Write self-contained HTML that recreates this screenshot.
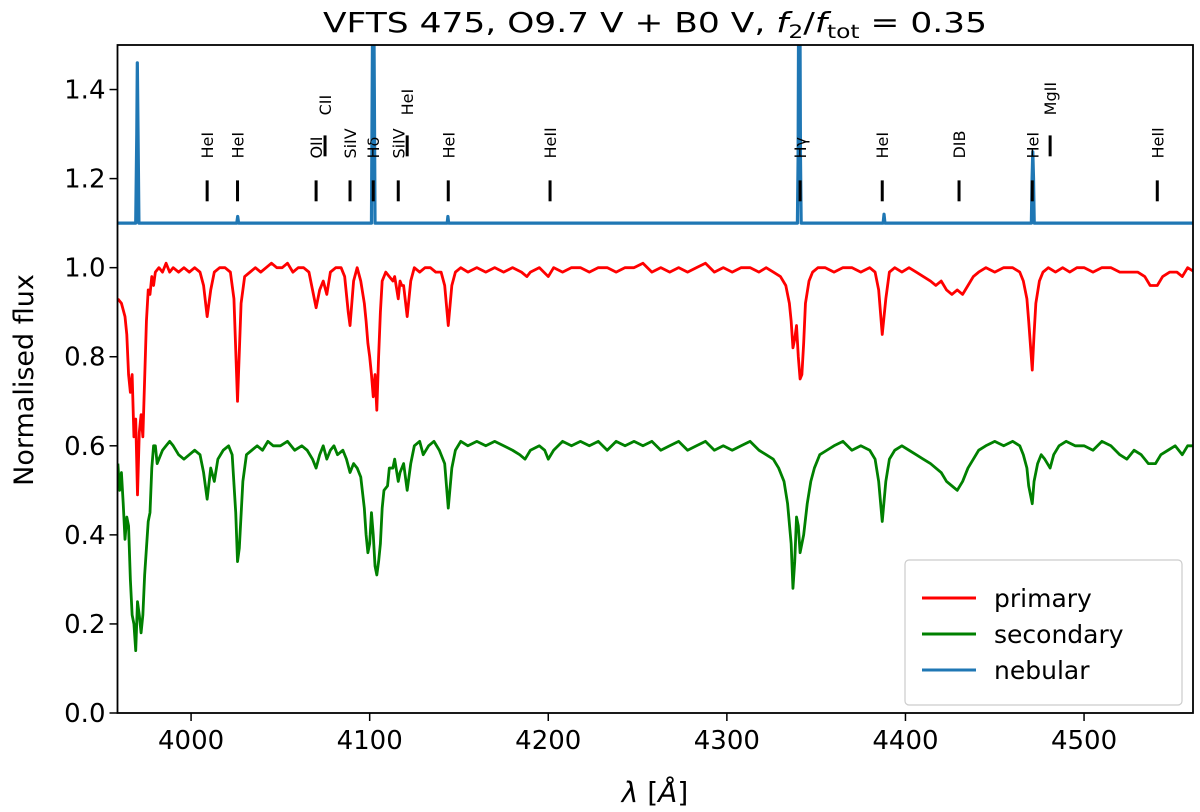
<!DOCTYPE html>
<html><head><meta charset="utf-8"><style>
html,body{margin:0;padding:0;background:#fff}
svg{display:block;font-family:"DejaVu Sans","Liberation Sans",sans-serif}
</style></head><body>
<svg id="chart" width="1200" height="812" viewBox="0 0 1200 812" xmlns="http://www.w3.org/2000/svg">
<text x="655" y="32" font-size="28" text-anchor="middle" textLength="664" lengthAdjust="spacingAndGlyphs">VFTS 475, O9.7 V + B0 V, <tspan font-style="italic">f</tspan><tspan font-size="19" dy="6">2</tspan><tspan dy="-6">/</tspan><tspan font-style="italic">f</tspan><tspan font-size="19" dy="6">tot</tspan><tspan dy="-6"> = 0.35</tspan></text>
<g id="plot"></g>
<text transform="translate(33,380) rotate(-90)" font-size="27" text-anchor="middle">Normalised flux</text>
<text x="655" y="802" font-size="28" text-anchor="middle"><tspan font-style="italic">λ</tspan> [<tspan font-style="italic">Å</tspan>]</text>
</svg>
<script>
const xTicks=[4000,4100,4200,4300,4400,4500];
const yTicks=[0.0,0.2,0.4,0.6,0.8,1.0,1.2,1.4];
const primWl=[3959,3961,3963,3964,3965,3966,3967,3968,3969,3970,3971,3972,3973,3974,3975,3976,3977,3978,3979,3980,3982,3984,3986,3988,3990,3993,3996,3999,4002,4005,4007,4009,4011,4013,4016,4019,4022,4024,4026,4028,4030,4033,4036,4039,4042,4045,4048,4051,4054,4057,4060,4063,4066,4068,4070,4072,4074,4076,4078,4081,4084,4086,4088,4089,4091,4093,4095,4097,4098,4099,4100,4101,4102,4103,4104,4105,4106,4107,4109,4111,4113,4114,4116,4117,4118,4119,4121,4123,4125,4128,4131,4134,4137,4140,4142,4144,4146,4148,4151,4155,4160,4165,4170,4175,4180,4185,4188,4190,4195,4200,4203,4208,4213,4218,4223,4228,4233,4238,4243,4248,4253,4258,4263,4268,4273,4278,4283,4288,4293,4298,4303,4308,4313,4318,4322,4326,4330,4333,4335,4336,4337,4338,4339,4340,4341,4342,4343,4344,4346,4348,4351,4355,4360,4365,4370,4375,4380,4383,4385,4387,4389,4391,4394,4398,4402,4406,4410,4414,4417,4420,4423,4426,4429,4432,4435,4438,4441,4445,4450,4455,4460,4464,4466,4468,4469,4471,4472,4473,4475,4477,4480,4484,4488,4492,4496,4500,4505,4510,4515,4520,4525,4530,4534,4537,4541,4544,4548,4552,4555,4558,4562];
const primFlux=[0.93,0.92,0.89,0.85,0.76,0.72,0.76,0.62,0.66,0.49,0.63,0.67,0.62,0.75,0.88,0.95,0.94,0.98,0.96,0.99,1.00,0.99,1.01,0.99,1.00,0.99,1.00,0.99,1.00,0.99,0.96,0.89,0.95,0.99,1.00,1.00,0.99,0.93,0.70,0.92,0.98,0.99,1.00,0.99,1.00,1.01,1.00,1.00,1.01,0.99,1.00,1.00,0.99,0.95,0.91,0.95,0.97,0.94,0.99,1.00,1.00,0.98,0.90,0.87,0.97,1.00,0.97,0.92,0.88,0.83,0.80,0.76,0.71,0.76,0.68,0.80,0.90,0.97,0.99,0.98,0.97,0.98,0.93,0.97,0.96,0.96,0.89,0.97,1.00,0.99,1.00,1.00,0.99,0.99,0.96,0.87,0.96,0.99,1.00,0.99,1.00,0.99,1.00,0.99,1.00,0.99,0.98,0.99,1.00,0.98,1.00,0.99,1.00,1.00,0.99,1.00,1.00,0.99,1.00,1.00,1.01,0.99,1.00,0.99,1.00,0.99,1.00,1.01,0.99,1.00,0.99,1.00,1.00,0.99,1.00,0.99,0.98,0.96,0.92,0.88,0.82,0.84,0.87,0.80,0.75,0.76,0.83,0.92,0.97,0.99,1.00,1.00,0.99,1.00,1.00,0.99,1.00,0.99,0.95,0.85,0.93,0.99,1.00,0.99,1.00,0.99,0.98,0.97,0.96,0.97,0.95,0.94,0.95,0.94,0.96,0.98,0.99,1.00,0.99,1.00,1.00,0.99,0.97,0.93,0.88,0.77,0.85,0.92,0.97,0.99,1.00,0.99,1.00,0.99,1.00,1.00,0.99,1.00,1.00,0.99,0.99,0.99,0.98,0.96,0.96,0.98,0.99,0.99,0.98,1.00,0.99];
const secWl=[3959,3960,3961,3962,3963,3964,3965,3966,3967,3968,3969,3970,3971,3972,3973,3974,3975,3976,3977,3978,3979,3980,3981,3982,3984,3986,3988,3990,3993,3996,3999,4002,4005,4007,4009,4011,4013,4015,4018,4021,4023,4025,4026,4027,4029,4031,4034,4037,4040,4043,4046,4050,4054,4058,4062,4065,4068,4070,4072,4074,4076,4078,4080,4082,4085,4087,4089,4091,4093,4095,4097,4098,4099,4100,4101,4102,4103,4104,4105,4106,4107,4108,4110,4111,4113,4114,4116,4117,4119,4121,4123,4125,4128,4130,4133,4136,4139,4142,4144,4146,4148,4151,4155,4160,4165,4170,4175,4180,4184,4187,4190,4195,4198,4200,4203,4208,4213,4218,4223,4228,4233,4238,4243,4248,4253,4258,4263,4268,4273,4278,4283,4288,4293,4298,4303,4308,4313,4318,4322,4326,4329,4332,4334,4336,4337,4338,4339,4340,4341,4342,4343,4345,4347,4349,4352,4356,4360,4365,4370,4375,4380,4383,4385,4387,4389,4391,4394,4398,4402,4406,4410,4414,4417,4420,4423,4426,4429,4432,4435,4438,4441,4445,4450,4455,4460,4464,4466,4468,4469,4471,4472,4474,4476,4478,4481,4483,4486,4490,4495,4500,4505,4510,4515,4520,4524,4528,4532,4536,4540,4543,4547,4551,4555,4558,4562];
const secFlux=[0.56,0.50,0.54,0.47,0.39,0.44,0.42,0.30,0.22,0.20,0.14,0.25,0.22,0.18,0.22,0.31,0.37,0.43,0.45,0.55,0.60,0.60,0.56,0.57,0.59,0.60,0.61,0.60,0.58,0.57,0.58,0.59,0.58,0.54,0.48,0.55,0.52,0.57,0.59,0.60,0.58,0.45,0.34,0.37,0.52,0.58,0.59,0.60,0.59,0.61,0.60,0.60,0.61,0.59,0.60,0.59,0.57,0.55,0.58,0.60,0.57,0.59,0.60,0.58,0.59,0.57,0.54,0.56,0.55,0.53,0.46,0.40,0.36,0.38,0.45,0.40,0.33,0.31,0.34,0.38,0.46,0.50,0.51,0.55,0.55,0.57,0.52,0.54,0.56,0.50,0.56,0.60,0.61,0.58,0.60,0.61,0.59,0.56,0.46,0.55,0.59,0.61,0.60,0.61,0.60,0.61,0.60,0.59,0.58,0.57,0.59,0.60,0.59,0.57,0.59,0.61,0.60,0.61,0.60,0.61,0.59,0.61,0.60,0.61,0.60,0.61,0.59,0.60,0.61,0.59,0.60,0.61,0.59,0.60,0.59,0.60,0.61,0.59,0.58,0.57,0.55,0.52,0.47,0.38,0.28,0.34,0.44,0.42,0.36,0.38,0.40,0.47,0.52,0.55,0.58,0.59,0.60,0.61,0.59,0.60,0.59,0.57,0.52,0.43,0.52,0.57,0.59,0.60,0.59,0.58,0.57,0.56,0.55,0.54,0.52,0.51,0.50,0.52,0.55,0.57,0.59,0.60,0.61,0.60,0.61,0.60,0.58,0.55,0.51,0.47,0.52,0.56,0.58,0.57,0.55,0.58,0.60,0.61,0.60,0.60,0.59,0.61,0.60,0.58,0.57,0.59,0.58,0.56,0.56,0.58,0.59,0.60,0.58,0.60,0.60];
const nebWl=[3959,3969,3969.6,3969.9,3970.3,3970.8,4025.6,4026.1,4026.6,4101,4101.4,4101.7,4102.3,4102.6,4103,4143.4,4143.8,4144.2,4339.5,4339.9,4340.2,4340.9,4341.2,4341.6,4387.5,4388,4388.5,4470.5,4470.9,4471.3,4471.7,4472.1,4562];
const nebFlux=[1.10,1.10,1.30,1.46,1.30,1.10,1.10,1.115,1.10,1.10,1.40,1.60,1.60,1.40,1.10,1.10,1.115,1.10,1.10,1.25,1.60,1.60,1.25,1.10,1.10,1.12,1.10,1.10,1.20,1.26,1.20,1.10,1.10];
const lineNames=["HeI","HeI","OII","CII","SiIV","Hδ","SiIV","HeI","HeI","HeII","Hγ","HeI","DIB","HeI","MgII","HeII"];
const lineWl=[4009,4026,4070,4075,4089,4102,4116,4121,4144,4201,4341,4387,4430,4471,4481,4541];
const lineRaised=[0,0,0,1,0,0,0,1,0,0,0,0,0,0,1,0];

const L=117.5,R=1193,T=45,B=713,XMIN=3958.8,XMAX=4561,YMIN=0,YMAX=1.5;
const xs=v=>L+(v-XMIN)/(XMAX-XMIN)*(R-L);
const ys=v=>B-(v-YMIN)/(YMAX-YMIN)*(B-T);
const NS="http://www.w3.org/2000/svg";
const plot=document.getElementById('plot');
function mk(tag,attrs,parent){const e=document.createElementNS(NS,tag);for(const k in attrs)e.setAttribute(k,attrs[k]);(parent||plot).appendChild(e);return e;}
const defs=mk('defs',{});
const cp=mk('clipPath',{id:'clip'},defs);mk('rect',{x:L,y:T,width:R-L,height:B-T},cp);
const data=mk('g',{'clip-path':'url(#clip)'});
function series(wl,fl,color,w,name){
  const d=wl.map((v,i)=>(i?'L':'M')+xs(v).toFixed(2)+' '+ys(fl[i]).toFixed(2)).join(' ');
  const p=mk('path',{d:d,fill:'none',stroke:color,'stroke-width':w,'stroke-linejoin':'round'},data);
  
  
}
series(primWl,primFlux,'#ff0000',2.8,'primary-line');
series(secWl,secFlux,'#008000',2.8,'secondary-line');
series(nebWl,nebFlux,'#1f77b4',3.2,'nebular-line');
lineWl.forEach((w,i)=>{
  const x=xs(w);const up=lineRaised[i];
  const y1=up?ys(1.297):ys(1.196), y2=up?ys(1.25):ys(1.149);
  const m=mk('line',{x1:x,x2:x,y1:y1,y2:y2,stroke:'#000','stroke-width':3});
  
  
  const ty=up?ys(1.342):ys(1.245);
  const t=mk('text',{x:0,y:0,'font-size':16,transform:`translate(${x+6},${ty}) rotate(-90)`});
  t.textContent=lineNames[i];
  
  
});
const fr=mk('rect',{x:L,y:T,width:R-L,height:B-T,fill:'none',stroke:'#000','stroke-width':1.8});


xTicks.forEach(v=>{
  const x=xs(v);
  const tk=mk('line',{x1:x,x2:x,y1:B,y2:B+8,stroke:'#000','stroke-width':1.5});
  
  
  const t=mk('text',{x:x,y:B+36,'font-size':26,'text-anchor':'middle'});
  t.textContent=v;
  
  
});
yTicks.forEach(v=>{
  const y=ys(v);
  const tk=mk('line',{x1:L-8,x2:L,y1:y,y2:y,stroke:'#000','stroke-width':1.5});
  
  
  const t=mk('text',{x:L-12,y:y+9,'font-size':26,'text-anchor':'end'});
  t.textContent=v.toFixed(1);
  
  
});
const lg=mk('g',{});


mk('rect',{x:905,y:560,width:277,height:145,rx:4,fill:'#fff','fill-opacity':0.8,stroke:'#ccc','stroke-width':1.2},lg);
[['primary','#ff0000'],['secondary','#008000'],['nebular','#1f77b4']].forEach((e,i)=>{
  const y=598+i*36;
  const g=mk('g',{},lg);
  
  
  mk('line',{x1:922,x2:976,y1:y,y2:y,stroke:e[1],'stroke-width':3},g);
  const t=mk('text',{x:994,y:y+9,'font-size':25},g);
  t.textContent=e[0];
});
</script>
</body></html>
